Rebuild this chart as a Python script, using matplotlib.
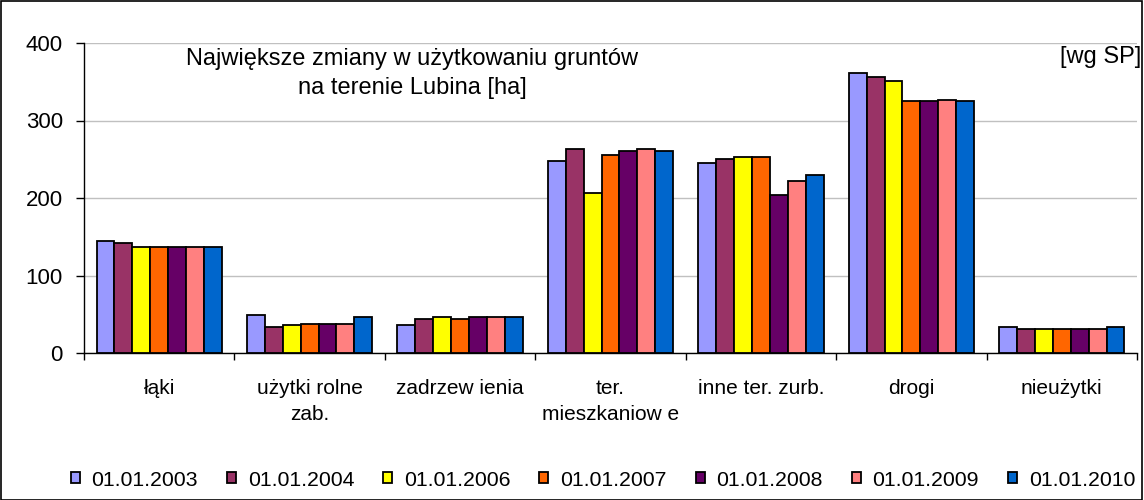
import matplotlib
matplotlib.use("Agg")
import matplotlib.pyplot as plt
import numpy as np
from matplotlib.patches import Rectangle

plt.rcParams['font.family'] = ['Liberation Sans', 'DejaVu Sans']

categories = ["łąki", "użytki rolne\nzab.", "zadrzew ienia", "ter.\nmieszkaniow e",
              "inne ter. zurb.", "drogi", "nieużytki"]
series_labels = ["01.01.2003", "01.01.2004", "01.01.2006", "01.01.2007",
                 "01.01.2008", "01.01.2009", "01.01.2010"]
v2003 = [144, 49, 36, 248, 245, 361, 33]
v2004 = [142, 33, 44, 263, 250, 356, 31]
v2006 = [137, 36, 47, 206, 253, 351, 31]
v2007 = [137, 38, 44, 256, 253, 325, 31]
v2008 = [137, 38, 47, 261, 204, 325, 31]
v2009 = [137, 38, 47, 263, 222, 327, 31]
v2010 = [137, 47, 47, 261, 230, 325, 33]
series = [v2003, v2004, v2006, v2007, v2008, v2009, v2010]
colors = ["#9999FF", "#993366", "#FFFF00", "#FF6600", "#660066", "#FF8080", "#0066CC"]

fig = plt.figure(figsize=(11.44, 5.0), dpi=100)
ax = fig.add_axes([84/1144, 1-353/500, (1137-84)/1144, (353-43)/500])

n = len(series)
x = np.arange(len(categories))
bw = 0.119
for i, (vals, c, lab) in enumerate(zip(series, colors, series_labels)):
    ax.bar(x + (i - (n-1)/2) * bw, vals, width=bw, color=c, edgecolor="black",
           linewidth=1.3, label=lab, zorder=3)

ax.set_xlim(-0.5, len(categories) - 0.5)
ax.set_ylim(0, 400)
ax.set_yticks([0, 100, 200, 300, 400])
ax.yaxis.grid(True, color="#c0c0c0", linewidth=1.0, zorder=0)
ax.set_axisbelow(True)
ax.spines['top'].set_visible(False)
ax.spines['right'].set_visible(False)
ax.spines['left'].set_linewidth(1.0)
ax.spines['bottom'].set_linewidth(1.0)
ax.tick_params(axis='y', labelsize=16, length=5.8, width=1, pad=9.4)

ax.set_xticks(np.arange(-0.5, len(categories)), minor=False)
ax.set_xticklabels([])
ax.set_xticks(x, minor=True)
ax.set_xticklabels(categories, minor=True, fontsize=15, linespacing=1.5)
ax.tick_params(axis='x', which='major', length=5, width=1, direction='out')
ax.tick_params(axis='x', which='minor', length=0, pad=18.5)

ax.text(0.3115, 0.985, "Największe zmiany w użytkowaniu gruntów\nna terenie Lubina [ha]",
        transform=ax.transAxes, ha='center', va='top', fontsize=17,
        multialignment='center', linespacing=1.45)
fig.text(1141/1144, 1-46/500, "[wg SP]", ha='right', va='top', fontsize=17)

handles, labels = ax.get_legend_handles_labels()
fig.legend(handles, labels, loc='center', bbox_to_anchor=(603/1144, 1-480/500), ncol=7,
           frameon=False, fontsize=15.3, handlelength=0.42, handleheight=0.42,
           handletextpad=0.56, columnspacing=1.36)

fig.patches.append(Rectangle((0.0005, 0.001), 0.998, 0.997, transform=fig.transFigure,
                             fill=False, edgecolor='black', linewidth=1.2))

fig.savefig("out.png", dpi=100)
